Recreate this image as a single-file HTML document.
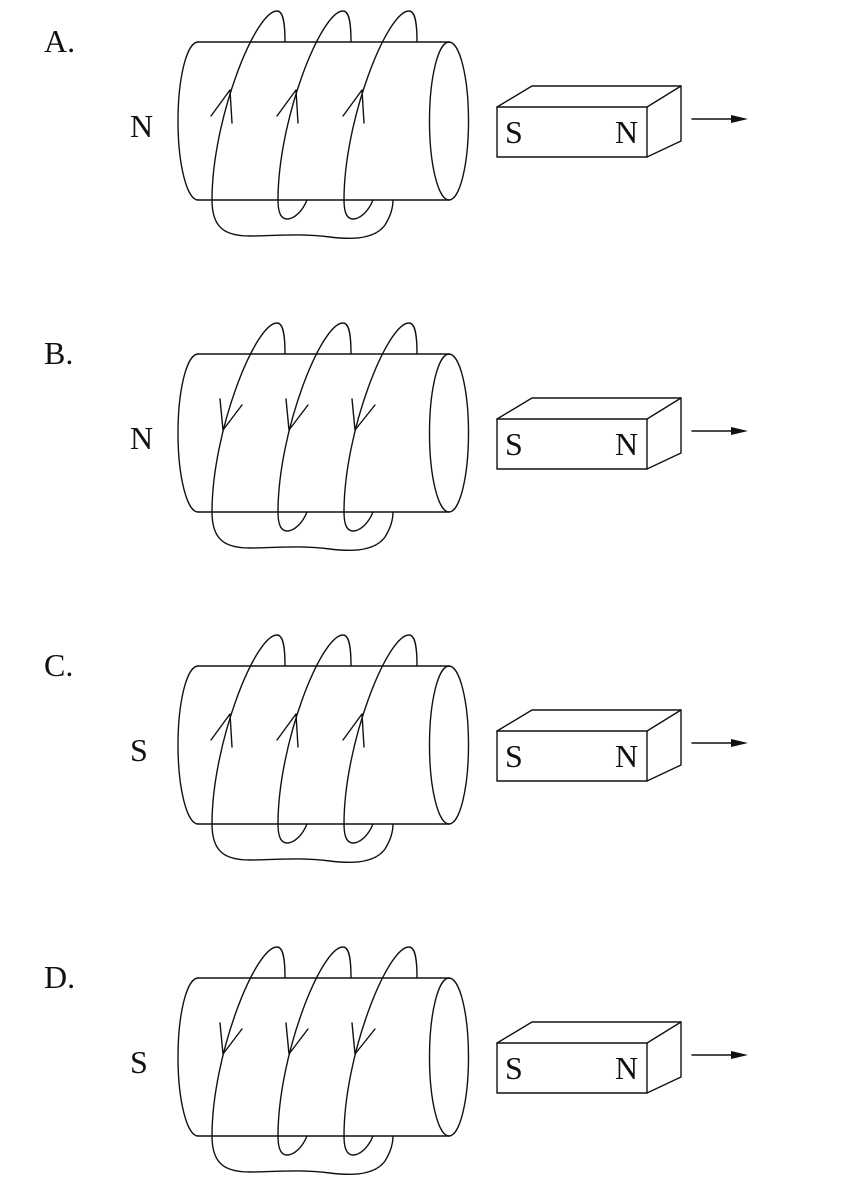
<!DOCTYPE html>
<html>
<head>
<meta charset="utf-8">
<style>
html,body{margin:0;padding:0;background:#fff;}
svg{display:block;}
text{font-family:"Liberation Serif",serif;font-size:32px;fill:#111;}
</style>
</head>
<body>
<svg width="852" height="1188" viewBox="0 0 852 1188" xmlns="http://www.w3.org/2000/svg">
<defs>
  <g id="base" fill="none" stroke="#111" stroke-width="1.4" stroke-linejoin="round" stroke-linecap="round">
    <!-- cylinder -->
    <line x1="198" y1="42" x2="449" y2="42"/>
    <line x1="198" y1="200" x2="449" y2="200"/>
    <path d="M198,42 A20,79 0 0 0 198,200"/>
    <ellipse cx="449" cy="121" rx="19.5" ry="79"/>
    <!-- loop 1 + lead -->
    <path d="M285,42 C285,22 283,11 277,11 C255,11 212,120 212,200 C212,228 225,236 250,236 C275,236 300,233 330,237 C360,241 377,236 385,225 C390,217 393,208 393,200"/>
    <!-- loop 2 -->
    <path d="M307,200 C303,210 295,219 287,219 C280,219 278,210 278,200 C278,120 321,11 343,11 C349,11 351,22 351,42"/>
    <!-- loop 3 -->
    <path d="M373,200 C369,210 361,219 353,219 C346,219 344,210 344,200 C344,120 387,11 409,11 C415,11 417,22 417,42"/>
    <!-- magnet -->
    <rect x="497" y="107" width="150" height="50"/>
    <polyline points="497,107 532,86 681,86 681,141 647,157"/>
    <line x1="647" y1="107" x2="681" y2="86"/>
    <!-- motion arrow -->
    <line x1="692" y1="119" x2="735" y2="119"/>
  </g>
  <polygon id="ahead" points="731,115 748,119 731,123" fill="#111"/>
  <g id="up" fill="none" stroke="#111" stroke-width="1.4" stroke-linecap="round" stroke-linejoin="round">
    <polyline points="211,116 230,90 232,123"/>
    <polyline points="277,116 296,90 298,123"/>
    <polyline points="343,116 362,90 364,123"/>
  </g>
  <g id="down" fill="none" stroke="#111" stroke-width="1.4" stroke-linecap="round" stroke-linejoin="round">
    <polyline points="220,87 223,118 242,93"/>
    <polyline points="286,87 289,118 308,93"/>
    <polyline points="352,87 355,118 375,93"/>
  </g>
</defs>

<!-- Panel A -->
<g>
  <use href="#base"/><use href="#ahead"/><use href="#up"/>
  <text x="44" y="52">A.</text>
  <text x="130" y="137">N</text>
  <text x="505" y="143">S</text>
  <text x="615" y="143">N</text>
</g>

<!-- Panel B -->
<g transform="translate(0,312)">
  <use href="#base"/><use href="#ahead"/><use href="#down"/>
  <text x="44" y="52">B.</text>
  <text x="130" y="137">N</text>
  <text x="505" y="143">S</text>
  <text x="615" y="143">N</text>
</g>

<!-- Panel C -->
<g transform="translate(0,624)">
  <use href="#base"/><use href="#ahead"/><use href="#up"/>
  <text x="44" y="52">C.</text>
  <text x="130" y="137">S</text>
  <text x="505" y="143">S</text>
  <text x="615" y="143">N</text>
</g>

<!-- Panel D -->
<g transform="translate(0,936)">
  <use href="#base"/><use href="#ahead"/><use href="#down"/>
  <text x="44" y="52">D.</text>
  <text x="130" y="137">S</text>
  <text x="505" y="143">S</text>
  <text x="615" y="143">N</text>
</g>
</svg>
</body>
</html>
